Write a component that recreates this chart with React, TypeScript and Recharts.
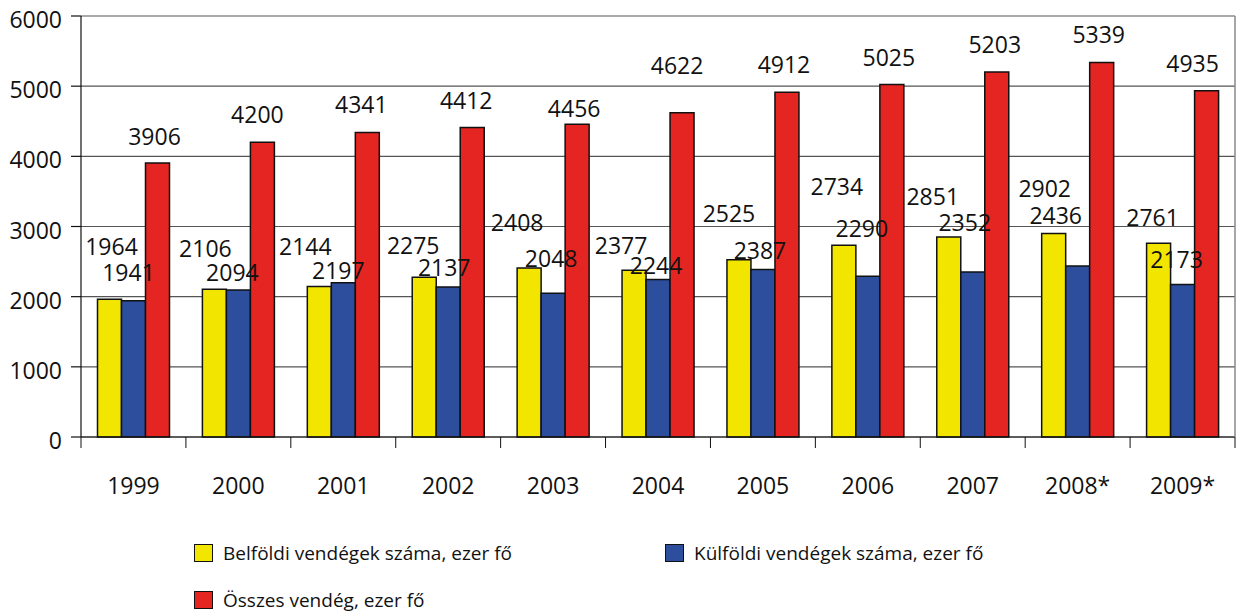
import { BarChart, Bar, XAxis, YAxis, CartesianGrid, LabelList } from 'recharts';

const years = ['1999', '2000', '2001', '2002', '2003', '2004', '2005', '2006', '2007', '2008*', '2009*'];
const belfoldi = [1964, 2106, 2144, 2275, 2408, 2377, 2525, 2734, 2851, 2902, 2761];
const kulfoldi = [1941, 2094, 2197, 2137, 2048, 2244, 2387, 2290, 2352, 2436, 2173];
const osszes = [3906, 4200, 4341, 4412, 4456, 4622, 4912, 5025, 5203, 5339, 4935];
const yTicks = [0, 1000, 2000, 3000, 4000, 5000, 6000];

const seriesNames = {
  belfoldi: 'Belföldi vendégek száma, ezer fő',
  kulfoldi: 'Külföldi vendégek száma, ezer fő',
  osszes: 'Összes vendég, ezer fő',
};

const COLORS = { belfoldi: '#f2e600', kulfoldi: '#2d4e9c', osszes: '#e42521' };

// hand-placed label offsets in the original (dx, dy of text centre vs bar top)
const nudgeYellow = [[2, -52], [-9, -40], [-14, -40], [-11, -31], [-12, -45], [-13, -24], [-10, -46], [-7, -58], [-16, -40], [-9, -44], [-6, -25]];
const nudgeBlue = [[-5, -28], [-6, -17], [-5, -12], [-4, -19], [-2, -34], [-2, -14], [-3, -19], [-6, -47], [-8, -49], [-22, -50], [-6, -25]];
const nudgeRed = [[-3, -26], [-5, -27], [-6, -27], [-6, -26], [-3, -15], [-5, -47], [-3, -27], [-3, -26], [-2, -27], [-3, -27], [-14, -27]];

const data = years.map((year, i) => ({
  year,
  belfoldi: belfoldi[i],
  kulfoldi: kulfoldi[i],
  osszes: osszes[i],
}));

const W = 1238;
const H = 613;
const MARGIN = { top: 16, right: 2, left: 0, bottom: 116 };
const X_AXIS_H = 60;
const PLOT_BOTTOM = H - MARGIN.bottom - X_AXIS_H;
const FONT = '"Open Sans", sans-serif';
const FS = 23;

// all labels drawn from the last series so they sit on top of every bar
// eslint-disable-next-line @typescript-eslint/no-explicit-any
function AllLabels(props: any) {
  const vb = props.viewBox || {};
  const x = props.x ?? vb.x;
  const y = props.y ?? vb.y;
  const width = props.width ?? vb.width;
  const height = props.height ?? vb.height;
  const index = props.index;
  if (x == null || index == null) return null;
  const bottom = y + height;
  const k = height / osszes[index];
  const items = [
    { v: belfoldi[index], cx: x - 2 * width + width / 2, n: nudgeYellow[index] },
    { v: kulfoldi[index], cx: x - width + width / 2, n: nudgeBlue[index] },
    { v: osszes[index], cx: x + width / 2, n: nudgeRed[index] },
  ];
  return (
    <g>
      {items.map((it, j) => (
        <text
          key={j}
          x={it.cx + it.n[0]}
          y={bottom - it.v * k + it.n[1] + 8}
          textAnchor="middle"
          fontFamily={FONT}
          fontSize={FS}
          fill="#111"
        >
          {it.v}
        </text>
      ))}
    </g>
  );
}

// eslint-disable-next-line @typescript-eslint/no-explicit-any
function XTick(props: any) {
  const { x, payload, index, visibleTicksCount } = props;
  const half = payload?.offset ?? 52.5;
  const last = index === (visibleTicksCount ?? years.length) - 1;
  return (
    <g>
      <line x1={x - half} x2={x - half} y1={PLOT_BOTTOM} y2={PLOT_BOTTOM + 11} stroke="#111" strokeWidth={1} />
      {last && (
        <line x1={x + half} x2={x + half} y1={PLOT_BOTTOM} y2={PLOT_BOTTOM + 11} stroke="#111" strokeWidth={1} />
      )}
      <text x={x} y={PLOT_BOTTOM + 57} textAnchor="middle" fontFamily={FONT} fontSize={FS} fill="#111">
        {payload.value}
      </text>
    </g>
  );
}

// eslint-disable-next-line @typescript-eslint/no-explicit-any
function YTick(props: any) {
  const { x, y, payload } = props;
  return (
    <text x={x} y={y + 12} textAnchor="end" fontFamily={FONT} fontSize={FS} fill="#111">
      {payload.value}
    </text>
  );
}

function LegendItem({ color, label, left, top }: { color: string; label: string; left: number; top: number }) {
  return (
    <div style={{ position: 'absolute', left, top, display: 'flex', alignItems: 'center', whiteSpace: 'nowrap' }}>
      <span
        style={{
          display: 'inline-block',
          width: 17,
          height: 16,
          background: color,
          border: '1.5px solid #111',
          marginRight: 10,
        }}
      />
      <span style={{ fontFamily: FONT, fontSize: 19, color: '#111', lineHeight: '20px' }}>{label}</span>
    </div>
  );
}

export default function App() {
  return (
    <div style={{ position: 'absolute', left: 0, top: 0, width: W, height: H, background: '#fff' }}>
      <BarChart width={W} height={H} data={data} margin={MARGIN} barCategoryGap={16.5} barGap={0}>
        <CartesianGrid vertical={false} stroke="#555" strokeWidth={1.2} />
        <XAxis
          dataKey="year"
          height={X_AXIS_H}
          interval={0}
          axisLine={{ stroke: '#111', strokeWidth: 1.2 }}
          tickLine={false}
          tick={<XTick />}
        />
        <YAxis
          width={81}
          domain={[0, 6000]}
          ticks={yTicks}
          interval={0}
          tickSize={10}
          tickMargin={9}
          axisLine={{ stroke: '#111', strokeWidth: 1.2 }}
          tickLine={{ stroke: '#111', strokeWidth: 1.2 }}
          tick={<YTick />}
        />
        <YAxis
          yAxisId="frame"
          orientation="right"
          width={1}
          domain={[0, 6000]}
          tick={false}
          tickLine={false}
          axisLine={{ stroke: '#888', strokeWidth: 1.5 }}
        />
        <Bar dataKey="belfoldi" name={seriesNames.belfoldi} fill={COLORS.belfoldi} stroke="#111" strokeWidth={1.5} isAnimationActive={false} />
        <Bar dataKey="kulfoldi" name={seriesNames.kulfoldi} fill={COLORS.kulfoldi} stroke="#111" strokeWidth={1.5} isAnimationActive={false} />
        <Bar dataKey="osszes" name={seriesNames.osszes} fill={COLORS.osszes} stroke="#111" strokeWidth={1.5} isAnimationActive={false}>
          <LabelList dataKey="osszes" content={<AllLabels />} />
        </Bar>
      </BarChart>
      <LegendItem color={COLORS.belfoldi} label={seriesNames.belfoldi} left={194} top={543} />
      <LegendItem color={COLORS.kulfoldi} label={seriesNames.kulfoldi} left={665} top={543} />
      <LegendItem color={COLORS.osszes} label={seriesNames.osszes} left={194} top={590} />
    </div>
  );
}
